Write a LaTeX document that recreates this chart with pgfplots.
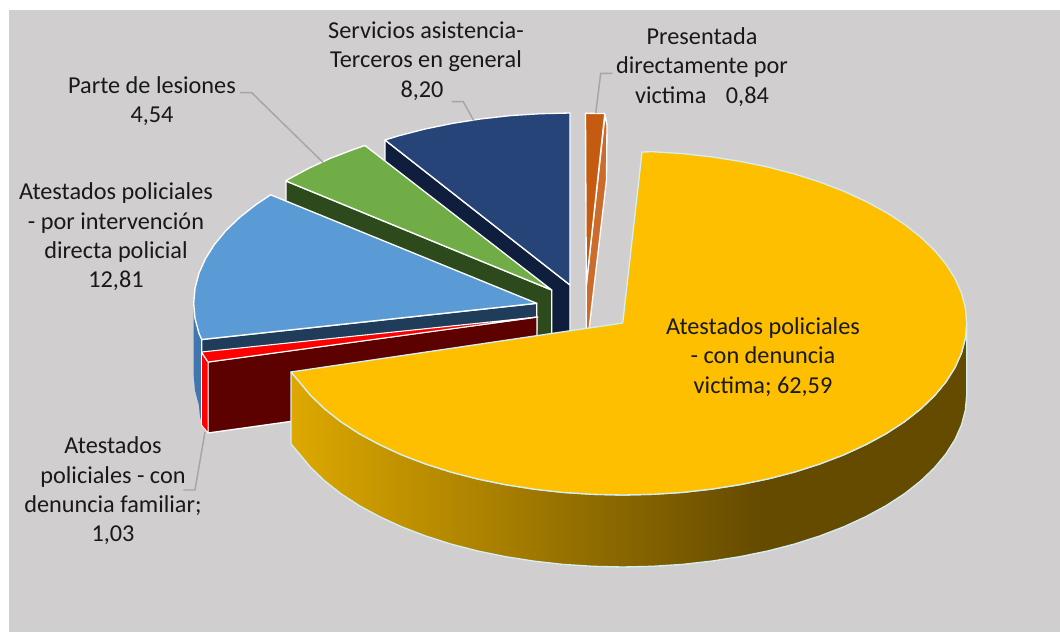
\documentclass[border=0pt]{standalone}
\usepackage{fontspec}
\setmainfont{Carlito}
\usepackage{pgfplots}
\pgfplotsset{compat=1.18}
\definecolor{fondo}{HTML}{D0CECE}
\definecolor{amarillo}{HTML}{FDBF00}
\definecolor{azul}{HTML}{5B9BD5}
\definecolor{azullado}{HTML}{3F77AE}
\definecolor{azulpared}{HTML}{1F3C5A}
\definecolor{verde}{HTML}{70AD47}
\definecolor{verdepared}{HTML}{2D4A1C}
\definecolor{marino}{HTML}{264478}
\definecolor{marinopared}{HTML}{0F1E3C}
\definecolor{naranja}{HTML}{C55A11}
\definecolor{naranjapared}{HTML}{CC6C2C}
\definecolor{rojo}{HTML}{FF0000}
\definecolor{granate}{HTML}{5C0000}
\definecolor{guia}{HTML}{A6A6A6}
\definecolor{borde}{HTML}{D5EEF2}
\definecolor{ladoclaro}{RGB}{221,168,0}
\definecolor{ladooscuro}{RGB}{101,75,0}
\pgfdeclarehorizontalshading{ladoamarillo}{100bp}{
  color(0bp)=(ladoclaro);
  color(25bp)=(ladoclaro);
  color(59.7bp)=(ladooscuro);
  color(100bp)=(ladooscuro)}
\tikzset{etiqueta/.style={font=\fontsize{18.2}{22}\selectfont, align=center, text=black!90, inner sep=0pt}}
\begin{document}
\begin{tikzpicture}
\begin{axis}[
  hide axis,
  scale only axis,
  width=795pt,
  height=474pt,
  xmin=0, xmax=1060,
  ymin=0, ymax=632,
  y dir=reverse,
  clip=false,
  no markers,
  every axis plot/.append style={line join=round},
]
% page and grey panel
\addplot[fill=white, draw=none] coordinates {(0,0)(1060,0)(1060,632)(0,632)} --cycle;
\addplot[fill=fondo, draw=none] coordinates {(9,10)(1060,10)(1060,632)(9,632)} --cycle;

% naranja
\addplot[fill=naranjapared, draw=white, line width=1pt] coordinates {(605,115)(607,125)(606.5,180)(589,330)(586.3,330)(586.3,285)} --cycle;
\addplot[fill=naranja, draw=white, line width=1pt] coordinates {(585.5,113.3)(604.8,113.5)(586.3,285)} --cycle;

% marino
\addplot[fill=marinopared, draw=white, line width=1pt] coordinates {(385,140)(570,285)(570,360)(385,215)} --cycle;
\addplot[fill=marino, draw=white, line width=1pt] coordinates {(385,140)(398,136)(424.6,129.1)(452.4,123.4)(481,118.9)(510.3,115.6)(540,113.7)(570,113)(570,285)} --cycle;

% verde
\addplot[fill=verdepared, draw=white, line width=1pt] coordinates {(286,181)(551.7,290)(551.7,345)(286,236)} --cycle;
\addplot[fill=verde, draw=white, line width=1pt] coordinates {(286,181)(288.2,179.4)(308.5,168.4)(330.6,158.2)(354.4,149.1)(365,145.5)(551.7,290)} --cycle;

% azul
\addplot[fill=azullado, draw=none] coordinates {(193.7,303.3)(195,318.3)(198.9,333.2)(203,341)(203,425)(200,417)(198.9,405.2)(195,390.3)(193.7,375.3)} --cycle;
\addplot[fill=azulpared, draw=white, line width=1pt] coordinates {(201.7,339.5)(536.7,303.3)(536.7,330)(201.7,366)} --cycle;
\addplot[fill=azul, draw=white, line width=1pt] coordinates {(270.7,194.8)(255.9,204.6)(239.8,217.3)(225.9,230.6)(214.4,244.5)(205.4,258.8)(198.9,273.4)(195,288.3)(193.7,303.3)(195,318.3)(198.9,333.2)(201.7,339.5)(536.7,303.3)} --cycle;

% rojo
\addplot[fill=granate, draw=white, line width=1pt] coordinates {(208,362)(537,317)(537,387)(208,433)} --cycle;
\addplot[fill=rojo, draw=white, line width=0.6pt] coordinates {(201.5,353)(208,362)(208,433)(201.5,425)} --cycle;
\addplot[fill=rojo, draw=white, line width=0.8pt] coordinates {(201.5,352)(208,362)(538,317)} --cycle;

% amarillo
\addplot[shade, shading=ladoamarillo, draw=borde, line width=1pt] coordinates {
  (966.7,323)(965.4,338)(961.5,352.9)(955,367.5)(946,381.8)(934.5,395.7)(920.6,409)(904.5,421.7)(886.2,433.6)(865.9,444.6)
  (843.8,454.8)(820,463.9)(794.7,472)(768.1,478.9)(740.3,484.6)(711.7,489.1)(682.4,492.4)(652.7,494.3)(622.7,495)
  (592.7,494.3)(563,492.4)(533.7,489.1)(505.1,484.6)(477.3,478.9)(450.7,472)(425.4,463.9)(401.6,454.8)(379.5,444.6)
  (359.2,433.6)(340.9,421.7)(324.8,409)(310.9,395.7)(299.4,381.8)(291,372)
  (291,444)(299.4,453.8)(310.9,467.7)(324.8,481)(340.9,493.7)(359.2,505.6)(379.5,516.6)(401.6,526.8)(425.4,535.9)
  (450.7,544)(477.3,550.9)(505.1,556.6)(533.7,561.1)(563,564.4)(592.7,566.3)(622.7,567)(652.7,566.3)(682.4,564.4)
  (711.7,561.1)(740.3,556.6)(768.1,550.9)(794.7,544)(820,535.9)(843.8,526.8)(865.9,516.6)(886.2,505.6)(904.5,493.7)
  (920.6,481)(934.5,467.7)(946,453.8)(955,439.5)(961.5,424.9)(965.4,410)(966.7,395)
} --cycle;
\addplot[fill=amarillo, draw=borde, line width=1pt] coordinates {
  (622.7,323)(642,152)(652.7,151.7)(682.4,153.6)(711.7,156.9)(740.3,161.4)(768.1,167.1)(794.7,174)(820,182.1)(843.8,191.2)
  (865.9,201.4)(886.2,212.4)(904.5,224.3)(920.6,237)(934.5,250.3)(946,264.2)(955,278.5)(961.5,293.1)(965.4,308)(966.7,323)
  (965.4,338)(961.5,352.9)(955,367.5)(946,381.8)(934.5,395.7)(920.6,409)(904.5,421.7)(886.2,433.6)(865.9,444.6)
  (843.8,454.8)(820,463.9)(794.7,472)(768.1,478.9)(740.3,484.6)(711.7,489.1)(682.4,492.4)(652.7,494.3)(622.7,495)
  (592.7,494.3)(563,492.4)(533.7,489.1)(505.1,484.6)(477.3,478.9)(450.7,472)(425.4,463.9)(401.6,454.8)(379.5,444.6)
  (359.2,433.6)(340.9,421.7)(324.8,409)(310.9,395.7)(299.4,381.8)(291,372)
} --cycle;

% lineas guia
\addplot[guia, line width=1.1pt] coordinates {(240,92.7)(251.7,92.7)(323.3,162.7)};
\addplot[guia, line width=1.1pt] coordinates {(451.7,101.7)(463.3,101.7)(474,121)};
\addplot[guia, line width=1.1pt] coordinates {(612.7,73.3)(600.7,73.3)(595.7,113.3)};
\addplot[guia, line width=1.1pt] coordinates {(183.3,490)(195,490)(205,431.7)};

% etiquetas
\node[etiqueta] at (axis cs:426,61) {Servicios asistencia-\\Terceros en general\\\hspace*{-6pt}8,20};
\node[etiqueta] at (axis cs:702,67) {Presentada\\directamente por\\victima\hspace{0.8em}0,84};
\node[etiqueta] at (axis cs:152,101) {Parte de lesiones\\4,54};
\node[etiqueta] at (axis cs:116,237) {Atestados policiales\\- por intervención\\directa policial\\12,81};
\node[etiqueta] at (axis cs:113,491) {Atestados\\policiales - con\\denuncia familiar;\\1,03};
\node[etiqueta] at (axis cs:763,357) {Atestados policiales\\- con denuncia\\victima; 62,59};
\end{axis}
\end{tikzpicture}
\end{document}
